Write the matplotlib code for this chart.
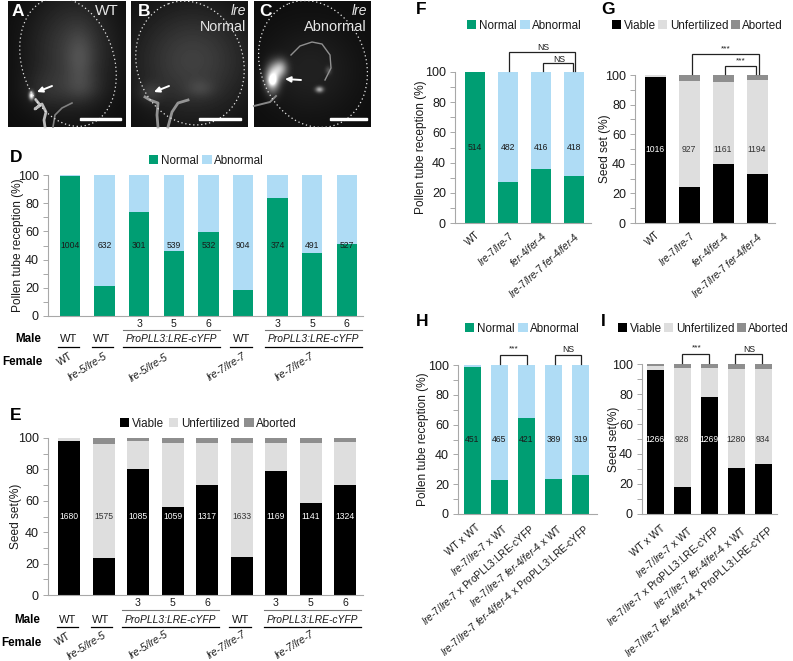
import numpy as np
import matplotlib
matplotlib.use("Agg")
import matplotlib.pyplot as plt
from matplotlib.patches import Ellipse, Rectangle
from matplotlib.transforms import ScaledTranslation

plt.rcParams['font.family'] = ['Liberation Sans', 'DejaVu Sans']
plt.rcParams['mathtext.fontset'] = 'custom'
plt.rcParams['mathtext.rm'] = 'Liberation Sans'
plt.rcParams['mathtext.it'] = 'Liberation Sans:italic'
plt.rcParams['mathtext.default'] = 'it'

W, H = 793, 661
GREEN = '#009E73'
BLUE = '#AFDCF5'
BLACK = '#000000'
LIGHT = '#DEDEDE'
GREY = '#8E8E8E'
AXIS = '#A8A8A8'
TXT = '#1A1A1A'

# panel D
d_normal = [99.5, 21.5, 74, 46, 59.5, 18.5, 84, 45, 51]
d_n = [1004, 632, 301, 539, 532, 904, 374, 491, 527]
# panel E
e_viable = [98, 23.5, 80.5, 56, 70, 24, 79, 58.5, 70]
e_aborted = [0, 4, 2, 3.5, 3, 3.5, 3, 3, 2.5]
e_n = [1680, 1575, 1085, 1059, 1317, 1633, 1169, 1141, 1324]
line_ticks = ['', '', '3', '5', '6', '', '3', '5', '6']
# panel F
f_normal = [100, 27, 35.5, 31]
f_n = [514, 482, 416, 418]
fg_labels = ['WT', 'lre-7/lre-7', 'fer-4/fer-4', 'lre-7/lre-7 fer-4/fer-4']
# panel G
g_viable = [98.5, 24, 40, 33]
g_aborted = [0, 4, 4.5, 3.5]
g_n = [1016, 927, 1161, 1194]
# panel H
h_normal = [98.5, 23, 64.5, 23.5, 26.5]
h_n = [451, 465, 421, 389, 319]
hi_labels = ['WT x WT', 'lre-7/lre-7 x WT', 'lre-7/lre-7 x ProPLL3:LRE-cYFP',
             'lre-7/lre-7 fer-4/fer-4 x WT',
             'lre-7/lre-7 fer-4/fer-4 x ProPLL3:LRE-cYFP']
# panel I
i_viable = [96, 18, 78, 31, 33.5]
i_aborted = [1, 2.5, 2.5, 3.5, 3.5]
i_n = [1266, 928, 1269, 1280, 934]

fig = plt.figure(figsize=(W / 100, H / 100), dpi=100)

# overlay in pixel coordinates for photos, brackets and row labels
ov = fig.add_axes([0, 0, 1, 1], zorder=5)
ov.set_xlim(0, W)
ov.set_ylim(H, 0)
ov.axis('off')


def make_axes(left, right, top, bottom, centers, width, label, label_x):
    ax = fig.add_axes([left / W, 1 - bottom / H, (right - left) / W, (bottom - top) / H])
    step = centers[1] - centers[0]
    ax.set_xlim((left - centers[0]) / step, (right - centers[0]) / step)
    ax.set_ylim(0, 100)
    ax.set_yticks(range(0, 101, 20))
    ax.set_yticks(range(10, 100, 20), minor=True)
    ax.tick_params(axis='y', which='both', length=3.5, width=0.7, color=AXIS,
                   labelsize=9, pad=3, labelcolor=TXT)
    ax.tick_params(axis='x', length=0)
    for s in ['top', 'right']:
        ax.spines[s].set_visible(False)
    for s in ['left', 'bottom']:
        ax.spines[s].set_color(AXIS)
        ax.spines[s].set_linewidth(0.8)
    ax.patch.set_alpha(0)
    ax.set_ylabel(label, fontsize=8.6, color=TXT)
    ax.yaxis.set_label_coords((label_x + 7) / W, 1 - (top + bottom) / 2 / H, transform=fig.transFigure)
    return ax, width / step


def reception(ax, bw, normal, counts):
    x = np.arange(len(normal))
    rest = [100 - v for v in normal]
    ax.bar(x, normal, bw, color=GREEN, label='Normal')
    ax.bar(x, rest, bw, bottom=normal, color=BLUE, label='Abnormal')
    for i, n in enumerate(counts):
        ax.text(i, 50, str(n), ha='center', va='center', fontsize=6.2, color=TXT)


def seedset(ax, bw, viable, aborted, counts):
    x = np.arange(len(viable))
    unf = [100 - v - a for v, a in zip(viable, aborted)]
    bottom2 = [v + u for v, u in zip(viable, unf)]
    ax.bar(x, viable, bw, color=BLACK, label='Viable')
    ax.bar(x, unf, bw, bottom=viable, color=LIGHT, label='Unfertilized')
    ax.bar(x, aborted, bw, bottom=bottom2, color=GREY, label='Aborted')
    for i, n in enumerate(counts):
        col = 'white' if viable[i] > 50 else '#333333'
        ax.text(i, 50, str(n), ha='center', va='center', fontsize=6.2, color=col)


def add_legend(ax, x, y, ncol, colsp):
    ax.legend(loc='center left', bbox_to_anchor=(x / W, 1 - y / H),
              bbox_transform=fig.transFigure, ncol=ncol, frameon=False, fontsize=8.4,
              borderpad=0, borderaxespad=0, handlelength=0.8, handleheight=0.8,
              handletextpad=0.2, columnspacing=colsp, labelcolor=TXT)


def geno(s):
    # genotype names in italics, crosses and WT upright
    parts = []
    for w in s.split(' '):
        if w in ('x', 'WT') or w.startswith('Pro'):
            parts.append(w)
        else:
            parts.append('-'.join('$' + p + '$' for p in w.split('-')))
    return ' '.join(parts)


def slanted(ax, labels, rot, size, pad, dx=0):
    ax.set_xticks(range(len(labels)))
    ax.set_xticklabels([geno(s) for s in labels], rotation=rot, ha='right',
                       rotation_mode='anchor', fontsize=size, color=TXT)
    ax.tick_params(axis='x', pad=pad)
    shift = ScaledTranslation(dx / 100, 0, fig.dpi_scale_trans)
    for t in ax.get_xticklabels():
        t.set_transform(t.get_transform() + shift)


def bracket(x0, x1, y, y2):
    ov.plot([x0, x0, x1, x1], [y2, y, y, y2], color='#222222', lw=0.9, solid_joinstyle='miter')


def rows(num_line, name_line, male_y, female_y, female_pos, seg_x):
    black = [(58, 79), (92, 113), (123, 220), (230, 252), (265, 362)]
    for a, b in [black[2], black[4]]:
        ov.plot([a + seg_x, b + seg_x], [num_line, num_line], color='#777777', lw=0.8)
    for a, b in black:
        ov.plot([a + seg_x, b + seg_x], [name_line, name_line], color='black', lw=0.9)
    ov.text(15 + seg_x, male_y, 'Male', fontsize=8.4, fontweight='bold', va='center')
    ov.text(2 + seg_x, female_y, 'Female', fontsize=8.4, fontweight='bold', va='center')
    for cx, t in zip([69, 102, 242], ['WT', 'WT', 'WT']):
        ov.text(cx + seg_x, male_y, t, fontsize=8, ha='center', va='center', color=TXT)
    for cx in [171, 313]:
        ov.text(cx + seg_x, male_y, 'ProPLL3:LRE-cYFP', fontsize=7.4, style='italic',
                ha='center', va='center', color=TXT)
    names = ['WT', 'lre-5/lre-5', 'lre-5/lre-5', 'lre-7/lre-7', 'lre-7/lre-7']
    for (cx, cy), t in zip(female_pos, names):
        ov.text(cx, cy, t, fontsize=7.4, rotation=32, ha='center', va='center', color=TXT,
                style='normal' if t == 'WT' else 'italic')


# D
centers_d = [70, 104.6, 139.2, 173.8, 208.4, 243, 277.6, 312.2, 346.8]
ax, bw = make_axes(48, 363, 175, 316, centers_d, 20.5, 'Pollen tube reception (%)', 17)
reception(ax, bw, d_normal, d_n)
add_legend(ax, 149, 161, 2, 0.35)
ax.set_xticks(range(9))
ax.set_xticklabels(line_ticks, fontsize=7.6, color=TXT)
ax.tick_params(axis='x', pad=2)
rows(330, 347, 339, 362, [(65, 359), (88, 367), (149, 368), (227, 367), (295, 367)], 0)

# E
centers_e = [69, 103.5, 138.1, 172.6, 207.2, 241.8, 276.3, 310.9, 345.4]
ax, bw = make_axes(48, 363, 438, 595, centers_e, 22, 'Seed set(%)', 15)
seedset(ax, bw, e_viable, e_aborted, e_n)
add_legend(ax, 120, 424, 3, 0.45)
ax.set_xticks(range(9))
ax.set_xticklabels(line_ticks, fontsize=7.6, color=TXT)
ax.tick_params(axis='x', pad=2)
rows(610, 627, 620, 643, [(63, 639), (87, 646), (149, 645), (227, 645), (295, 645)], -1)

# F
ax, bw = make_axes(455, 591, 72, 223, [475, 508, 541, 574], 20, 'Pollen tube reception (%)', 420)
reception(ax, bw, f_normal, f_n)
add_legend(ax, 467, 26, 2, 0.35)
slanted(ax, fg_labels, 42, 7.2, 5)
bracket(509, 575, 52, 71)
bracket(543, 573, 63, 71)
ov.text(543, 48, 'NS', fontsize=6.2, ha='center', va='center', color=TXT)
ov.text(559, 59, 'NS', fontsize=6.2, ha='center', va='center', color=TXT)

# G
ax, bw = make_axes(635, 775, 75, 223, [655, 689, 723, 757], 21, 'Seed set (%)', 604)
seedset(ax, bw, g_viable, g_aborted, g_n)
add_legend(ax, 612, 26, 3, 0.2)
slanted(ax, fg_labels, 42, 7.2, 5)
bracket(692, 759, 54, 74)
bracket(725, 756, 66, 74)
ov.text(726, 49, '***', fontsize=6, ha='center', va='center', color=TXT)
ov.text(741, 61, '***', fontsize=6, ha='center', va='center', color=TXT)

# H
ax, bw = make_axes(458, 597, 365, 514, [472, 499.2, 526.5, 553.8, 581], 17, 'Pollen tube reception (%)', 422)
reception(ax, bw, h_normal, h_n)
add_legend(ax, 465, 329, 2, 0.35)
slanted(ax, hi_labels, 41, 7.3, 6, dx=3)
bracket(500, 527, 355, 364)
bracket(555, 581, 355, 364)
ov.text(514, 349, '***', fontsize=6, ha='center', va='center', color=TXT)
ov.text(568, 350, 'NS', fontsize=6.2, ha='center', va='center', color=TXT)

# I
ax, bw = make_axes(642, 777, 364, 514, [655, 682, 709, 736, 763], 17, 'Seed set(%)', 613)
seedset(ax, bw, i_viable, i_aborted, i_n)
add_legend(ax, 618, 329, 3, 0.2)
slanted(ax, hi_labels, 41, 7.3, 7, dx=5)
bracket(682, 709, 354, 363)
bracket(735, 762, 354, 363)
ov.text(697, 348, '***', fontsize=6, ha='center', va='center', color=TXT)
ov.text(749, 350, 'NS', fontsize=6.2, ha='center', va='center', color=TXT)

# panel letters
for x, y, t in [(10, 158, 'D'), (10, 416, 'E'), (416, 10, 'F'), (601, 10, 'G'), (416, 322, 'H'), (601, 321, 'I')]:
    ov.text(x, y, t, fontsize=12.5, fontweight='bold', va='center')


# micrographs A, B, C: soft dark images with glowing spots
def photo(x0, x1, y0, y1, glows):
    xs, ys = np.meshgrid(np.arange(x0, x1), np.arange(y0, y1))
    img = np.full(xs.shape, 0.05)
    for cx, cy, sx, sy, amp in glows:
        img += amp * np.exp(-((xs - cx) / sx) ** 2 - ((ys - cy) / sy) ** 2)
    ov.imshow(np.clip(img, 0, 1), cmap='gray', vmin=0, vmax=1, extent=(x0, x1, y1, y0),
              aspect='auto', zorder=1, interpolation='bilinear')


photo(8, 126, 1, 127, [(72, 50, 42, 55, 0.18), (80, 60, 14, 30, 0.1), (82, 88, 20, 14, 0.07),
                       (45, 90, 24, 20, 0.07), (31, 95, 2.5, 4, 0.9)])
photo(131, 248, 1, 127, [(192, 60, 58, 55, 0.2), (200, 88, 14, 9, 0.08), (150, 92, 12, 10, 0.1)])
photo(254, 371, 1, 127, [(310, 70, 48, 46, 0.08), (272, 78, 7, 13, 0.8), (280, 68, 7, 9, 0.55),
                         (272, 80, 4, 5, 0.4), (319, 89, 4, 3, 0.55), (328, 70, 3, 4, 0.2)])
ov.set_xlim(0, W)
ov.set_ylim(H, 0)

for x, y, w, h, a in [(68, 62, 92, 132, -18), (190, 63, 106, 126, -20), (313, 64, 105, 130, -22)]:
    ov.add_patch(Ellipse((x, y), w, h, angle=a, fill=False, ec='#E8E8E8', lw=0.9,
                         ls=(0, (1, 2.2)), zorder=3))

# pollen tubes
ov.plot([36, 40, 35, 42, 46, 44, 45], [100, 105, 109, 104, 112, 120, 127], color='#D8D8D8', lw=2, alpha=0.85, zorder=2)
ov.plot([53, 55, 62, 72], [127, 115, 108, 103], color='#808080', lw=1.2, zorder=2)
ov.plot([145, 150, 158, 157, 158], [97, 100, 103, 115, 127], color='#A8A8A8', lw=2, alpha=0.85, zorder=2)
ov.plot([168, 172, 178, 188], [127, 112, 103, 100], color='#A8A8A8', lw=2, alpha=0.85, zorder=2)
ov.plot([291, 300, 312, 322, 330, 331, 325], [55, 46, 42, 44, 55, 68, 80], color='#909090', lw=1, zorder=2)
ov.plot([254, 270, 276], [106, 102, 96], color='#888888', lw=1.4, zorder=2)

# arrows
for x0, y0, x1, y1 in [(52, 86, 37, 92), (169, 86, 154, 92), (301, 80, 285, 79)]:
    ov.annotate('', xy=(x1, y1), xytext=(x0, y0), zorder=4,
                arrowprops=dict(arrowstyle='-|>', color='white', lw=1.4, mutation_scale=8,
                                shrinkA=0, shrinkB=0))

# scale bars
for a, b in [(80, 121), (199, 241), (330, 367)]:
    ov.add_patch(Rectangle((a, 118), b - a, 2.4, color='white', zorder=4))

ov.text(18, 11, 'A', color='white', fontsize=12.5, fontweight='bold', ha='center', va='center', zorder=4)
ov.text(144, 11, 'B', color='white', fontsize=12.5, fontweight='bold', ha='center', va='center', zorder=4)
ov.text(266, 11, 'C', color='white', fontsize=12.5, fontweight='bold', ha='center', va='center', zorder=4)
ov.text(119, 11, 'WT', color='#E6E6E6', fontsize=11, ha='right', va='center', zorder=4)
ov.text(246, 11, 'lre', color='#E6E6E6', fontsize=10, style='italic', ha='right', va='center', zorder=4)
ov.text(246, 27, 'Normal', color='#E6E6E6', fontsize=10.3, ha='right', va='center', zorder=4)
ov.text(367, 11, 'lre', color='#E6E6E6', fontsize=10, style='italic', ha='right', va='center', zorder=4)
ov.text(367, 27, 'Abnormal', color='#E6E6E6', fontsize=10.5, ha='right', va='center', zorder=4)

fig.savefig('out.png', dpi=100)
